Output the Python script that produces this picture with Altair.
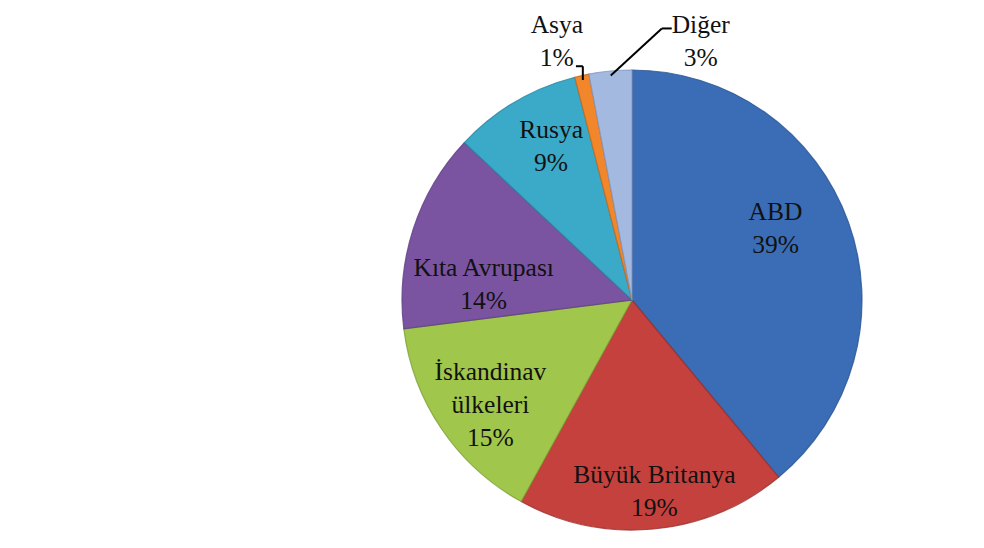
import altair as alt
import pandas as pd

categories = ["ABD", "Büyük Britanya", "İskandinav ülkeleri", "Kıta Avrupası", "Rusya", "Asya", "Diğer"]
shares = [39, 19, 15, 14, 9, 1, 3]
label_names = ["ABD", "Büyük Britanya", "İskandinav|ülkeleri", "Kıta Avrupası", "Rusya", "Asya", "Diğer"]
colors = ["#3A6DB5", "#C4413D", "#A0C64B", "#7A54A1", "#3BA9C8", "#F2862A", "#A3B9E0"]
edge_colors = ["#2A5590", "#9A2F2C", "#7BA032", "#5E3F84", "#2A87A2", "#C86A18", "#7F96C0"]

# label offsets (in pie-radius units) from the point at 0.76 R on each slice's mid angle
label_dx = [-0.091, 0.026, 0.013, 0.078, 0.035]
label_dy = [0.126, -0.004, 0.113, -0.096, 0.083]

df = pd.DataFrame({"cat": categories, "share": shares, "name": label_names,
                   "idx": list(range(len(categories)))})

R = 230
FONT = "Liberation Serif"
FS = 25.5
LH = 33
TXT = "#111111"

base = alt.Chart(df).transform_calculate(
    lines="split(datum.name + '|' + datum.share + '%', '|')"
)

theta = alt.Theta("share:Q", stack=True)
order = alt.Order("idx:Q")
color = alt.Color("cat:N", scale=alt.Scale(domain=categories, range=colors), legend=None)
stroke = alt.Stroke("cat:N", scale=alt.Scale(domain=categories, range=edge_colors), legend=None)

pie = base.mark_arc(outerRadius=R, strokeWidth=1.2, strokeOpacity=0.8).encode(
    theta=theta, color=color, stroke=stroke, order=order
)

geo = base.transform_window(
    cum="sum(share)", sort=[alt.SortField("idx")]
).transform_calculate(
    mid="(datum.cum - datum.share / 2) / 100 * 2 * PI",
    ex="0.98 * sin(datum.mid)",
    ey="0.98 * cos(datum.mid)",
    ix="0.76 * sin(datum.mid)",
    iy="0.76 * cos(datum.mid)",
)

sx = alt.Scale(domain=[-1, 1], nice=False, zero=False)
sy = alt.Scale(domain=[-1, 1], nice=False, zero=False)

layers = [pie]

for i in range(5):
    g = geo.transform_filter(alt.datum.idx == i).transform_calculate(
        tx=f"datum.ix + ({label_dx[i]})", ty=f"datum.iy + ({label_dy[i]})"
    )
    layers.append(g.mark_text(font=FONT, fontSize=FS, lineHeight=LH, color=TXT,
                              align="center", baseline="middle").encode(
        x=alt.X("tx:Q", scale=sx, axis=None),
        y=alt.Y("ty:Q", scale=sy, axis=None),
        text="lines:N",
    ))


def outside(cat, tdx, tdy, pts):
    g = geo.transform_filter(alt.datum.cat == cat)
    calc = {"tx": f"datum.ex + ({tdx})", "ty": f"datum.ey + ({tdy})"}
    for i, (px, py) in enumerate(pts):
        calc[f"p{i}x"] = f"datum.ex + ({px})"
        calc[f"p{i}y"] = f"datum.ey + ({py})"
    g = g.transform_calculate(**calc)
    txt = g.mark_text(font=FONT, fontSize=FS, lineHeight=LH, color=TXT, align="center", baseline="middle").encode(
        x=alt.X("tx:Q", scale=sx, axis=None),
        y=alt.Y("ty:Q", scale=sy, axis=None),
        text="lines:N",
    )
    segs = []
    for i in range(len(pts) - 1):
        segs.append(g.mark_rule(color="#000000", strokeWidth=2).encode(
            x=alt.X(f"p{i}x:Q", scale=sx, axis=None),
            y=alt.Y(f"p{i}y:Q", scale=sy, axis=None),
            x2=f"p{i+1}x:Q",
            y2=f"p{i+1}y:Q",
        ))
    return [txt] + segs


layers += outside("Asya", -0.113, 0.238, [(0, 0), (0, 0.060), (-0.030, 0.060)])
layers += outside("Diğer", 0.391, 0.220, [(0, 0), (0.222, 0.205), (0.265, 0.205)])

chart = alt.layer(*layers).properties(
    width=2 * R,
    height=2 * R,
    padding={"left": 394, "top": 62, "right": 10, "bottom": 8},
    autosize=alt.AutoSizeParams(type="none"),
    background="#ffffff",
).configure_view(stroke=None)

chart.save("out.html", embed_options={"renderer": "svg", "actions": False})
